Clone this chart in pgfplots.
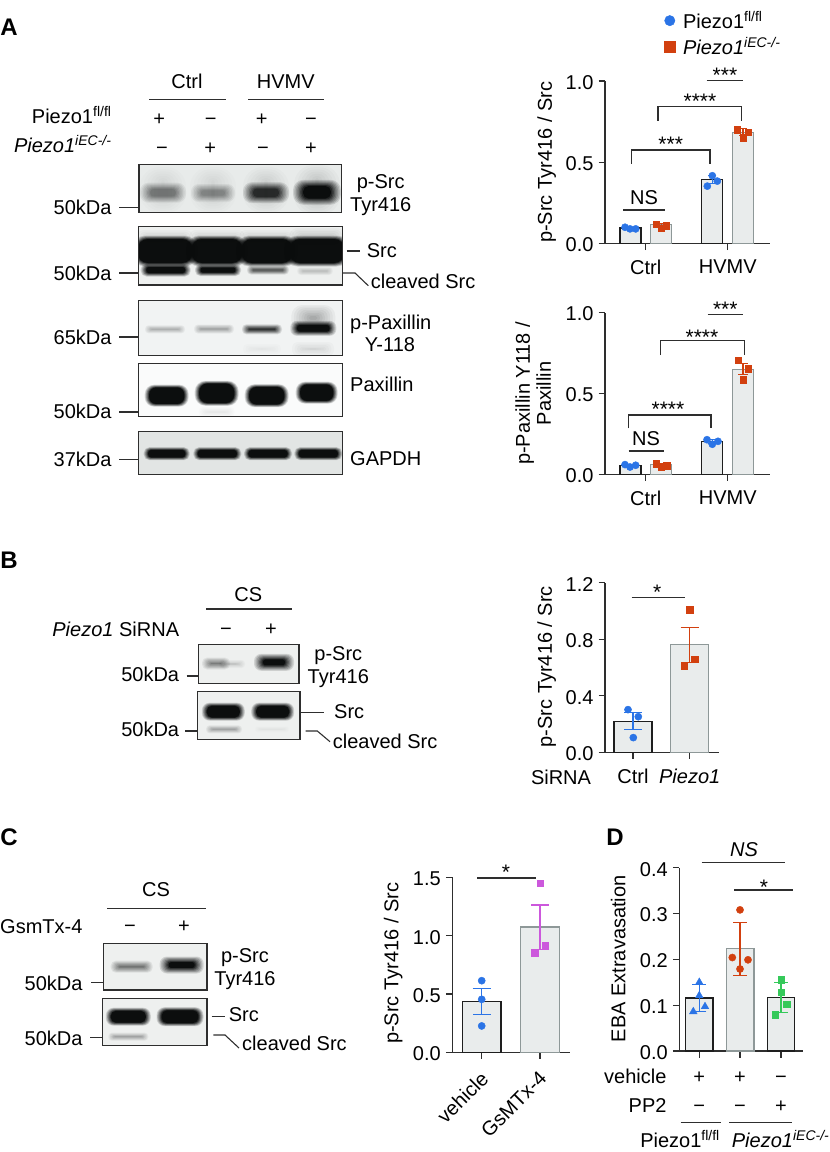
\documentclass[border=0pt]{standalone}
\usepackage{pgfplots}
\pgfplotsset{compat=1.18}
\usepackage{fontspec}
\setmainfont{Liberation Sans}
\newcommand\fs{\fontsize{20}{21}\selectfont}
\definecolor{axc}{HTML}{2E2E2E}
\definecolor{bk}{HTML}{1E1E1E}
\definecolor{gy}{HTML}{8E9898}
\definecolor{barf}{HTML}{E9ECEC}
\definecolor{cb}{HTML}{2B74E6}
\definecolor{cr}{HTML}{D2400F}
\definecolor{cm}{HTML}{CC58DC}
\definecolor{cg}{HTML}{35C95A}
\definecolor{ink}{HTML}{0A0C0C}
\pgfplotsset{
 bx/.style={scale only axis, anchor=south west, axis lines=left, clip=false,
  axis line style={-,line width=1.2pt,draw=axc}, tick style={line width=1.2pt,draw=axc},
  tick align=outside, major tick length=6.5pt,
  tick label style={font=\fs}, label style={font=\fs},
  /pgf/number format/assume math mode=true,
  y tick label style={/pgf/number format/fixed,/pgf/number format/fixed zerofill,/pgf/number format/precision=1,yshift=-1.5pt,xshift=-1.5pt},
  scaled y ticks=false, xticklabel style={yshift=-6.5pt}, ymin=0},
 blk/.style={ybar,bar shift=0pt,fill=barf,draw=bk,line width=1.3pt,forget plot},
 gry/.style={ybar,bar shift=0pt,fill=barf,draw=gy,line width=1.3pt,forget plot},
}
% error bars: colour, half cap, coordinates
\newcommand{\errs}[3]{\addplot[no markers,draw=none,forget plot,error bars/.cd,y dir=both,y explicit,
 error bar style={draw=#1,line width=1.1pt},error mark options={draw=#1,mark size=#2pt,line width=1.1pt,rotate=90}] coordinates {#3};}
\newcommand{\ptsc}[2]{\addplot[only marks,mark=*,mark size=3.6pt,color=#1,mark options={draw=#1,fill=#1},forget plot] coordinates {#2};}
\newcommand{\ptss}[2]{\addplot[only marks,mark=square*,mark size=3.3pt,color=#1,mark options={draw=#1,fill=#1},forget plot] coordinates {#2};}
\newcommand{\ptst}[2]{\addplot[only marks,mark=triangle*,mark size=4.4pt,color=#1,mark options={draw=#1,fill=#1},forget plot] coordinates {#2};}
% blot helpers: layers accumulate darkness linearly, overlapping bands only darken
\def\st{0.5}
\newcommand{\band}[5]{% cx cy w h peak%
 \foreach \i in {1,...,8}{%
  \pgfmathsetmacro\s{(\i-1)*\st}%
  \pgfmathsetmacro\cn{min(#5,99)/100*\i/8}%
  \pgfmathsetmacro\co{min(#5,99)/100*(\i-1)/8}%
  \pgfmathsetmacro\al{(\cn-\co)/(1-\co)}%
  \pgfmathsetmacro\hh{max(#4/2-\s,0.4)}%
  \pgfmathsetmacro\ww{max(#3/2-\s*1.6,0.4)}%
  \pgfmathsetmacro\rr{min(\hh,\ww)*0.85}%
  \fill[ink,opacity=\al,rounded corners=\rr pt] ({#1-\ww},{#2-\hh}) rectangle ({#1+\ww},{#2+\hh});
 }}
\newcommand{\blot}[6]{%
 \begin{scope}\clip (#1,#2) rectangle (#3,#4);
 \fill[#5] (#1,#2) rectangle (#3,#4);
 #6
 \end{scope}
 \draw[line width=1.1pt,draw=axc] (#1,#2) rectangle (#3,#4);}
\newcommand{\B}[5]{\band{#1}{#2}{#3}{#4}{#5}}
\definecolor{bgA}{HTML}{E8EBEA}
\definecolor{bgB}{HTML}{EEF0EF}
\definecolor{bgC}{HTML}{F1F3F3}
\definecolor{bgD}{HTML}{FAFBFB}
\definecolor{bgE}{HTML}{E2E5E4}
\newcommand{\T}[4][center]{\node[t,anchor=#1] at (#2,#3+3.2) {#4};}
\newcommand{\stars}[3]{\node[anchor=base,inner sep=0,font=\fontsize{21}{22}\selectfont] at (#1,#2+12.3) {#3};}
\newcommand{\brk}[4]{\draw[sg] (#1,#4) -- (#1,#3) -- (#2,#3) -- (#2,#4);}
\newcommand{\hl}[3]{\draw[sg] (#1,#3) -- (#2,#3);}
\newcommand{\PF}{Piezo1\textsuperscript{fl/fl}}
\newcommand{\PI}{\textit{Piezo1\textsuperscript{iEC-/-}}}
\begin{document}
\begin{tikzpicture}[font=\fs]
\path[use as bounding box] (0pt,0pt) rectangle (830pt,-1152pt);
%====== A1
\begin{axis}[bx,at={(605pt,-243.5pt)},width=165pt,height=162.5pt,xmin=605,xmax=770,ymax=1,
 xtick={645.7,727.7},xticklabels={Ctrl,HVMV},ytick={0,0.5,1},
 ylabel={p-Src Tyr416 / Src},ylabel style={at={(axis description cs:-0.353,0.5)},anchor=center,rotate=0},
 legend style={at={(axis description cs:0.36,1.444)},anchor=north west,draw=none,fill=none,inner sep=0pt,row sep=3pt,column sep=6pt,font=\fs},legend cell align=left]
\addplot[blk,bar width=21pt] coordinates {(630.5,0.095) (712.3,0.395)};
\addplot[gry,bar width=21pt] coordinates {(661.2,0.115) (743,0.685)};
\errs{cb}{4}{(630.5,0.095)+-(0,0.006) (712.3,0.395)+-(0,0.025)}
\errs{cr}{4}{(661.2,0.115)+-(0,0.01) (743,0.685)+-(0,0.02)}
\ptsc{cb}{(625,0.10) (630,0.09) (635.7,0.09) (707.3,0.353) (712.3,0.417) (717.3,0.384)}
\ptss{cr}{(656,0.12) (661,0.095) (666,0.11) (737.3,0.70) (743,0.65) (748.3,0.684)}
\addlegendimage{only marks,mark=*,mark size=5.2pt,color=cb,mark options={fill=cb,draw=cb}}
\addlegendentry{\PF}
\addlegendimage{only marks,mark=square*,mark size=5.2pt,color=cr,mark options={fill=cr,draw=cr}}
\addlegendentry{\PI}
\end{axis}
%====== A2
\begin{axis}[bx,at={(605pt,-474.3pt)},width=165pt,height=161.7pt,xmin=605,xmax=770,ymax=1,
 xtick={645.7,727.7},xticklabels={Ctrl,HVMV},ytick={0,0.5,1},
 ylabel={p-Paxillin Y118 /\\Paxillin},ylabel style={at={(axis description cs:-0.435,0.5)},anchor=center,align=center}]
\addplot[blk,bar width=21pt] coordinates {(630.5,0.055) (712.3,0.205)};
\addplot[gry,bar width=21pt] coordinates {(661.2,0.06) (743,0.65)};
\errs{cb}{4}{(630.5,0.055)+-(0,0.005) (712.3,0.205)+-(0,0.012)}
\errs{cr}{5}{(661.2,0.06)+-(0,0.006) (743,0.65)+-(0,0.035)}
\ptsc{cb}{(625,0.06) (630,0.045) (635.7,0.056) (707,0.214) (712.3,0.186) (718,0.204)}
\ptss{cr}{(656,0.064) (661,0.047) (666.7,0.054) (738,0.705) (743.3,0.584) (748,0.654)}
\end{axis}
%====== B
\begin{axis}[bx,at={(605pt,-752.3pt)},width=114pt,height=169.6pt,xmin=605,xmax=719,ymax=1.2,
 xtick={633,689.7},xticklabels={Ctrl,\textit{Piezo1}},ytick={0,0.4,0.8,1.2},
 ylabel={p-Src Tyr416 / Src},ylabel style={at={(axis description cs:-0.511,0.505)},anchor=center}]
\addplot[blk,bar width=38pt] coordinates {(633,0.22)};
\addplot[gry,bar width=38pt] coordinates {(689.5,0.762)};
\errs{cb}{9}{(633,0.22)+-(0,0.061)}
\errs{cr}{9}{(689.7,0.76)+-(0,0.126)}
\ptsc{cb}{(628,0.302) (638.3,0.252) (633.3,0.104)}
\ptss{cr}{(689.7,1.01) (694.7,0.66) (684.3,0.613)}
\end{axis}
%====== C
\begin{axis}[bx,at={(452.3pt,-1052.3pt)},width=118pt,height=175pt,xmin=452.3,xmax=570.3,ymax=1.5,
 xtick={481.7,540},xticklabels={vehicle,GsMTx-4},ytick={0,0.5,1,1.5},
 xticklabel style={rotate=45,anchor=north east,yshift=1.7pt,xshift=-1.5pt},
 ylabel={p-Src Tyr416 / Src},ylabel style={at={(axis description cs:-0.5,0.508)},anchor=center}]
\addplot[blk,bar width=38.6pt] coordinates {(481.7,0.434)};
\addplot[gry,bar width=38.6pt] coordinates {(540,1.074)};
\errs{cb}{9}{(481.7,0.434)+-(0,0.113)}
\errs{cm}{9}{(540,1.073)+-(0,0.19)}
\ptsc{cb}{(481.7,0.614) (481.7,0.454) (481.7,0.226)}
\ptss{cm}{(540,1.449) (545.3,0.917) (534.7,0.849)}
\end{axis}
%====== D
\begin{axis}[bx,at={(679.3pt,-1051pt)},width=124pt,height=183.3pt,xmin=679.3,xmax=803.3,ymax=0.4,
 xtick={699.3,740,781},xticklabels={},ytick={0,0.1,0.2,0.3,0.4},
 ylabel={EBA Extravasation},ylabel style={at={(axis description cs:-0.492,0.503)},anchor=center}]
\addplot[blk,bar width=27.3pt] coordinates {(699.3,0.116) (781,0.117)};
\addplot[gry,bar width=27.3pt] coordinates {(740.3,0.223)};
\errs{cb}{7}{(699.3,0.116)+-(0,0.03)}
\errs{cr}{7}{(740,0.222)+-(0,0.058)}
\errs{cg}{7}{(781,0.117)+-(0,0.033)}
\ptst{cb}{(699.3,0.15) (699.3,0.121) (705,0.097) (693.3,0.086)}
\ptsc{cr}{(740,0.308) (732.3,0.204) (748,0.199) (740,0.179)}
\ptss{cg}{(781,0.156) (781,0.128) (786.7,0.102) (775.3,0.079)}
\end{axis}
\begin{scope}[x=1pt,y=-1pt,t/.style={inner sep=0,text height=0.72em,text depth=0pt},
 sg/.style={line width=1.1pt,draw=axc}, lb/.style={line width=1.1pt,draw=axc}]
% panel letters
\node[t,anchor=center,font=\fontsize{24}{26}\selectfont\bfseries] at (9,32) {A};
\node[t,anchor=center,font=\fontsize{24}{26}\selectfont\bfseries] at (9,565) {B};
\node[t,anchor=center,font=\fontsize{24}{26}\selectfont\bfseries] at (9,842) {C};
\node[t,anchor=center,font=\fontsize{24}{26}\selectfont\bfseries] at (615,842) {D};
% A1 annotations
\hl{623}{665}{210}\T{644}{197.3}{NS}
\brk{631.7}{710}{150}{163.5}\stars{670.7}{139}{***}
\brk{658}{741.7}{106.7}{120.7}\stars{700}{96}{****}
\hl{706.7}{743.3}{80.3}\stars{725}{70}{***}
% A2 annotations
\hl{628.7}{663.7}{451}\T{646}{438.3}{NS}
\brk{628.3}{711}{415}{428.3}\stars{668}{404}{****}
\brk{660.7}{744.3}{340.7}{355}\stars{702}{332.3}{****}
\hl{707.7}{743}{314.7}\stars{725.3}{304.3}{***}
% B annotations
\hl{631.7}{684.7}{597.7}\stars{657.3}{587}{*}
\T{561}{778}{SiRNA}
% C annotations
\hl{477}{536}{878}\stars{506}{866.7}{*}
% D annotations
\hl{701.7}{785}{862.7}\T{744}{849.3}{\textit{NS}}
\hl{734.3}{793.3}{890}\stars{764}{881.7}{*}
\T[east]{666.7}{1076.7}{vehicle}\T[east]{666.7}{1105.3}{PP2}
\T{699.3}{1077}{+}\T{740}{1077}{+}\T{781}{1077}{−}
\T{699.3}{1106}{−}\T{740}{1106}{−}\T{781}{1106}{+}
\draw[lb] (680.7,1122.7)--(720.7,1122.7); \draw[lb] (729.3,1122.7)--(791.7,1122.7);
\T[east]{720}{1141}{\PF}\T[west]{731.7}{1141}{\PI}
%====== Blots A
\T{187}{81.7}{Ctrl}\T{285.7}{81.7}{HVMV}
\draw[lb] (149.3,99.7)--(225.7,99.7); \draw[lb] (248,99.7)--(324,99.7);
\T[east]{111.7}{117}{\PF}\T[east]{111.7}{146}{\PI}
\T{159.3}{119}{+}\T{210.7}{119}{−}\T{261.7}{119}{+}\T{311}{119}{−}
\T{162}{147.7}{−}\T{210.3}{147.7}{+}\T{263}{147.7}{−}\T{311}{147.7}{+}
\blot{139}{164.7}{341.7}{212.7}{bgA}{
 \def\st{2.2}
 \B{163}{190}{46}{46}{10}\B{213}{190}{46}{46}{10}\B{266}{190}{46}{46}{12}\B{317}{190}{46}{50}{16}
 \def\st{0.9}
 \B{163}{192.7}{46}{20}{48}\B{213}{193}{44}{18}{42}\B{266}{192.7}{46}{21}{85}\B{317}{192.3}{48}{25}{100}}
\T[east]{111.7}{207.3}{50kDa}\draw[lb] (119.3,207.3)--(139,207.3);
\T{380.7}{181.7}{p-Src}\T{380.7}{205}{Tyr416}
\blot{138.7}{226.7}{342.3}{285}{bgB}{
 \def\st{1.6}
 \B{165}{238}{56}{16}{18}\B{217}{238}{56}{16}{18}\B{267}{238}{56}{16}{18}\B{317}{238}{56}{20}{22}
 \def\st{0.5}
 \B{165}{251}{66}{31}{100}\B{217}{251}{62}{31}{100}\B{267}{251}{62}{31}{100}\B{317}{251}{66}{31}{100}
 \B{165.7}{270}{50}{13}{100}\B{218}{270}{46}{12}{100}\B{268}{270}{42}{9}{62}\B{315}{271}{36}{8}{20}}
\T[east]{111.7}{273.3}{50kDa}\draw[lb] (119.3,273)--(138.7,273);
\draw[lb] (346.7,251)--(360,251);\T[west]{366.7}{251}{Src}
\draw[lb] (342,273)--(355,273)--(368.3,285.7);\T[west]{370.7}{281.7}{cleaved Src}
\blot{138.7}{300.7}{342.3}{355.3}{bgC}{
 \def\st{1.6}
 \B{313.3}{318}{44}{26}{30}\B{313}{349}{42}{14}{16}\B{262}{349}{38}{10}{9}
 \def\st{0.6}
 \B{165}{329.3}{40}{8}{30}\B{214}{329}{40}{9}{34}\B{262}{329.3}{40}{10}{82}\B{313.3}{328.3}{46}{15}{100}}
\T[east]{111.7}{337.3}{65kDa}\draw[lb] (119.3,337)--(138.7,337);
\T[west]{350}{322.3}{p-Paxillin}\T{390}{345}{Y-118}
\blot{138.7}{363.3}{342.3}{416.7}{bgD}{
 \def\st{0.9}
 \B{216.7}{412}{36}{10}{9}
 \def\st{0.4}
 \B{166.7}{395.7}{44}{22}{100}\B{216.7}{393.3}{44}{25}{100}\B{266.7}{395.7}{44}{23}{100}\B{316.7}{392.7}{42}{22}{100}}
\T[east]{111.7}{412}{50kDa}\draw[lb] (119.3,412)--(138.7,412);
\T[west]{350}{384.3}{Paxillin}
\blot{138.7}{431.3}{342.3}{474.7}{bgE}{
 \def\st{0.4}
 \B{166.7}{453.7}{46}{13}{100}\B{217.3}{453.7}{48}{13}{100}\B{268}{453.7}{48}{13}{100}\B{318.3}{453.7}{48}{13}{100}}
\T[east]{111.7}{460}{37kDa}\draw[lb] (119.3,459.5)--(138.7,459.5);
\T[west]{350}{458.3}{GAPDH}
%====== Blots B
\T{248.3}{595}{CS}\draw[lb] (206,609)--(291.7,609);
\T[east]{179.3}{629.3}{\textit{Piezo1} SiRNA}\T{226}{629}{−}\T{271}{629}{+}
\blot{198.7}{644.7}{299}{683.3}{bgB}{
 \def\st{0.8}
 \B{216}{663.5}{28}{12}{50}\B{232}{664}{26}{8}{22}\B{274}{662.3}{40}{17}{100}}
\T[east]{179.3}{674.3}{50kDa}\draw[lb] (186.7,676)--(198.7,676);
\T{338.3}{653.3}{p-Src}\T{338.3}{676.7}{Tyr416}
\blot{197.7}{691.7}{300}{739.3}{bgB}{
 \def\st{0.45}
 \B{223.3}{711.7}{43}{18}{100}\B{272.7}{711.7}{43}{18}{100}
 \def\st{0.6}
 \B{224}{729.3}{36}{8}{35}\B{272}{729.3}{34}{6}{6}}
\T[east]{179.3}{730}{50kDa}\draw[lb] (185,731)--(197.7,731);
\draw[lb] (300,712.7)--(324.3,712.7);\T[west]{334}{712}{Src}
\draw[lb] (305.7,731)--(317.3,731)--(330,741.7);\T[west]{332.7}{742}{cleaved Src}
%====== Blots C
\T{156}{890}{CS}\draw[lb] (107.3,908.3)--(206,908.3);
\T[west]{0}{926.7}{GsmTx-4}\T{130}{926}{−}\T{184}{926}{+}
\blot{103.3}{943.7}{207}{990}{bgB}{
 \def\st{0.8}
 \B{131.7}{966.7}{42}{12}{55}\B{181.7}{965}{44}{17}{100}}
\T[east]{82.7}{983.3}{50kDa}\draw[lb] (91,982.7)--(103.3,982.7);
\T{245}{955.7}{p-Src}\T{245}{979}{Tyr416}
\blot{102.7}{998.3}{207}{1045.7}{bgB}{
 \def\st{0.45}
 \B{128.3}{1016.7}{45}{18}{100}\B{180}{1016.7}{47}{19}{100}
 \def\st{0.6}
 \B{128.3}{1036.7}{40}{8}{35}}
\T[east]{82.7}{1038.3}{50kDa}\draw[lb] (90,1037.3)--(102.7,1037.3);
\draw[lb] (211.7,1016.7)--(225,1016.7);\T[west]{228.7}{1015}{Src}
\draw[lb] (213.3,1035)--(225,1035)--(239,1048);\T[west]{242}{1044}{cleaved Src}
\end{scope}
\end{tikzpicture}
\end{document}
